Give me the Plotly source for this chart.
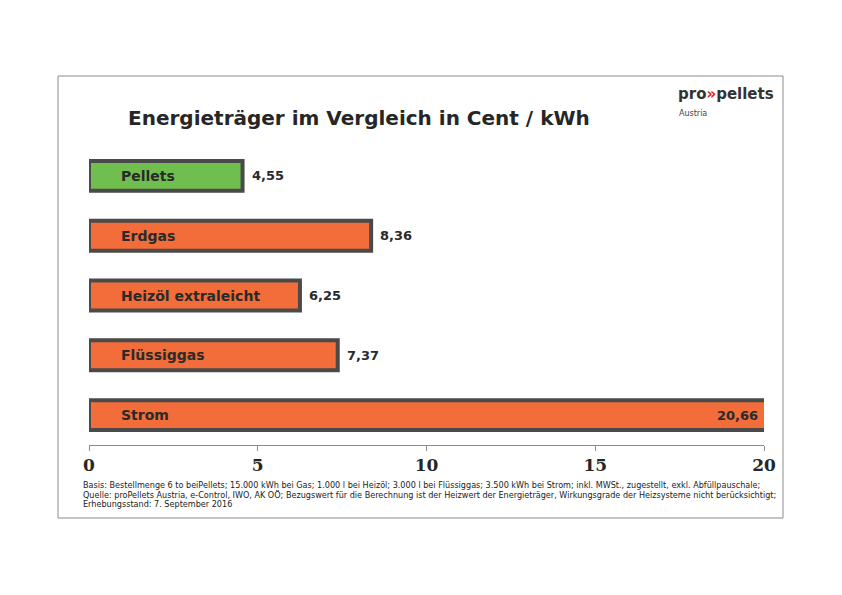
import plotly.graph_objects as go

categories = ["Pellets", "Erdgas", "Heizöl extraleicht", "Flüssiggas", "Strom"]
values = [4.55, 8.36, 6.25, 7.37, 20.66]
bar_colors = ["#70BF4E", "#F26D3A", "#F26D3A", "#F26D3A", "#F26D3A"]
tick_values = [0, 5, 10, 15, 20]
tick_labels = ["0", "5", "10", "15", "20"]

title_text = "Energieträger im Vergleich in Cent / kWh"
footnote_lines = [
    "Basis: Bestellmenge 6 to beiPellets; 15.000 kWh bei Gas; 1.000 l bei Heizöl; 3.000 l bei Flüssiggas; 3.500 kWh bei Strom; inkl. MWSt., zugestellt, exkl. Abfüllpauschale;",
    "Quelle: proPellets Austria, e-Control, IWO, AK OÖ; Bezugswert für die Berechnung ist der Heizwert der Energieträger, Wirkungsgrade der Heizsysteme nicht berücksichtigt;",
    "Erhebungsstand: 7. September 2016",
]

x_max = 20

# plot area in reference pixels (page offset of 8px removed via margins)
PX0, PX1, PY0, PY1 = 89, 764, 146, 445
OFF = 8
W, H = PX1 - PX0, PY1 - PY0


def px(x):
    return (x - PX0) / W


def py(y):
    return (PY1 - y) / H


fig = go.Figure()
fig.add_trace(go.Bar(
    x=values, y=categories, orientation="h",
    marker=dict(color=bar_colors, line=dict(color="#4A4A4A", width=4)),
    hoverinfo="skip", showlegend=False,
))

annotations = []
for cat, val in zip(categories, values):
    label = f"{val:.2f}".replace(".", ",")
    annotations.append(dict(x=0, y=cat, xref="x", yref="y", text=f"<b>{cat}</b>",
                            showarrow=False, xanchor="left", xshift=30,
                            font=dict(family="DejaVu Sans", size=14, color="#2A2A2A")))
    if val > x_max:
        annotations.append(dict(x=x_max, y=cat, xref="x", yref="y", text=f"<b>{label}</b>",
                                showarrow=False, xanchor="right", xshift=-4,
                                font=dict(family="DejaVu Sans", size=13, color="#2A2A2A")))
    else:
        annotations.append(dict(x=val, y=cat, xref="x", yref="y", text=f"<b>{label}</b>",
                                showarrow=False, xanchor="left", xshift=7,
                                font=dict(family="DejaVu Sans", size=13, color="#2A2A2A")))

# Title
annotations.append(dict(x=px(126), y=py(118), xref="paper", yref="paper",
                        text=f"<b>{title_text}</b>", showarrow=False, xanchor="left", yanchor="middle",
                        font=dict(family="DejaVu Sans", size=20, color="#262626")))
# Logo
annotations.append(dict(x=px(676), y=py(94), xref="paper", yref="paper",
                        text="<b>pro<span style='color:#E2231A'>»</span>pellets</b>", showarrow=False,
                        xanchor="left", yanchor="middle",
                        font=dict(family="DejaVu Sans", size=15, color="#333333")))
annotations.append(dict(x=px(677), y=py(113), xref="paper", yref="paper",
                        text="Austria", showarrow=False, xanchor="left", yanchor="middle",
                        font=dict(family="DejaVu Sans", size=8, color="#444444")))
# Footnote
for line, yy in zip(footnote_lines, [485, 494.5, 503.5]):
    annotations.append(dict(x=px(81), y=py(yy), xref="paper", yref="paper",
                            text=line, showarrow=False, xanchor="left", yanchor="middle", align="left",
                            font=dict(family="DejaVu Sans", size=8.1, color="#222222")))

fig.update_layout(
    width=842, height=595,
    margin=dict(l=PX0 - OFF, r=842 - (PX1 - OFF), t=PY0 - OFF, b=595 - (PY1 - OFF)),
    paper_bgcolor="white", plot_bgcolor="white",
    bargap=0.5,
    xaxis=dict(range=[0, x_max], tickvals=tick_values, ticktext=tick_labels,
               showgrid=False, zeroline=False, showline=True, linecolor="#8C8C8C", linewidth=1,
               ticks="outside", ticklen=5, tickcolor="#8C8C8C",
               tickfont=dict(family="DejaVu Serif", size=17, color="#262626", weight="bold"),
               fixedrange=True),
    yaxis=dict(categoryorder="array", categoryarray=categories, autorange="reversed",
               showticklabels=False, showgrid=False, zeroline=False, showline=False, fixedrange=True),
    annotations=annotations,
    shapes=[dict(type="rect", xref="paper", yref="paper",
                 x0=px(58), x1=px(783), y0=py(518), y1=py(76),
                 line=dict(color="#8C8C8C", width=1), fillcolor="rgba(0,0,0,0)", layer="below")],
)

fig.write_html("out.html")
